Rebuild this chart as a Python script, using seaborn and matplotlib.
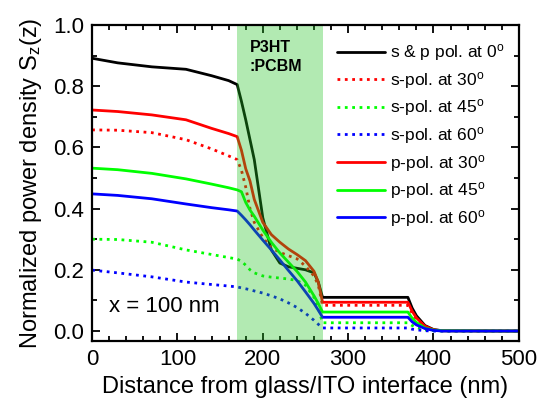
import matplotlib
matplotlib.use("Agg")
import matplotlib.pyplot as plt
import seaborn as sns

# distance from glass/ITO interface (nm)
z = [0, 30, 70, 110, 140, 160, 170, 175, 180, 185, 190, 200, 210, 220, 230,
     240, 250, 260, 265, 270, 370, 375, 380, 390, 400, 410, 500]

sp_0 = [0.891, 0.876, 0.863, 0.855, 0.834, 0.818, 0.805, 0.75, 0.69, 0.625, 0.56,
        0.37, 0.265, 0.222, 0.21, 0.205, 0.20, 0.19, 0.16, 0.11, 0.11, 0.075,
        0.05, 0.018, 0.005, 0.001, 0.0]
s_30 = [0.657, 0.656, 0.648, 0.625, 0.595, 0.572, 0.56, 0.525, 0.47, 0.40, 0.355,
        0.305, 0.272, 0.257, 0.246, 0.236, 0.212, 0.18, 0.15, 0.084, 0.084, 0.058,
        0.038, 0.014, 0.003, 0.001, 0.0]
s_45 = [0.30, 0.299, 0.29, 0.265, 0.25, 0.24, 0.235, 0.228, 0.215, 0.20, 0.19,
        0.18, 0.176, 0.173, 0.17, 0.165, 0.15, 0.11, 0.075, 0.027, 0.027, 0.018,
        0.012, 0.004, 0.001, 0.0, 0.0]
s_60 = [0.199, 0.19, 0.177, 0.16, 0.152, 0.147, 0.144, 0.141, 0.138, 0.135, 0.131,
        0.124, 0.115, 0.105, 0.092, 0.077, 0.058, 0.035, 0.022, 0.01, 0.01, 0.006,
        0.004, 0.001, 0.0, 0.0, 0.0]
p_30 = [0.722, 0.717, 0.706, 0.69, 0.662, 0.645, 0.635, 0.59, 0.53, 0.49, 0.43,
        0.355, 0.315, 0.29, 0.268, 0.25, 0.23, 0.195, 0.16, 0.094, 0.094, 0.065,
        0.043, 0.016, 0.004, 0.001, 0.0]
p_45 = [0.532, 0.527, 0.515, 0.497, 0.48, 0.468, 0.461, 0.455, 0.42, 0.395, 0.375,
        0.33, 0.29, 0.255, 0.225, 0.195, 0.16, 0.115, 0.09, 0.062, 0.062, 0.042,
        0.028, 0.01, 0.003, 0.001, 0.0]
p_60 = [0.448, 0.443, 0.432, 0.415, 0.403, 0.396, 0.392, 0.378, 0.363, 0.347, 0.33,
        0.297, 0.265, 0.232, 0.198, 0.165, 0.128, 0.09, 0.068, 0.045, 0.045, 0.03,
        0.02, 0.008, 0.002, 0.0, 0.0]

labels = ["s & p pol. at 0$^\\mathrm{o}$", "s-pol. at 30$^\\mathrm{o}$",
          "s-pol. at 45$^\\mathrm{o}$", "s-pol. at 60$^\\mathrm{o}$",
          "p-pol. at 30$^\\mathrm{o}$", "p-pol. at 45$^\\mathrm{o}$",
          "p-pol. at 60$^\\mathrm{o}$"]
series = [sp_0, s_30, s_45, s_60, p_30, p_45, p_60]
colors = ["black", "#ff0000", "#00ff00", "#0000ff", "#ff0000", "#00ff00", "#0000ff"]
styles = ["-", ":", ":", ":", "-", "-", "-"]

sns.set_style("ticks")
plt.rcParams["font.family"] = ["Liberation Sans", "DejaVu Sans"]
plt.rcParams["mathtext.fontset"] = "custom"
plt.rcParams["mathtext.rm"] = "Liberation Sans"
plt.rcParams["mathtext.it"] = "Liberation Sans:italic"
for key in ["text.color", "axes.labelcolor", "xtick.color", "ytick.color",
            "axes.edgecolor"]:
    plt.rcParams[key] = "black"

fig = plt.figure(figsize=(5.45, 4.15), dpi=100)
ax = fig.add_axes([0.169, 0.178, 0.783, 0.762])

for vals, lab, c, ls in zip(series, labels, colors, styles):
    sns.lineplot(x=z, y=vals, color=c, linestyle=ls, linewidth=2.0, label=lab,
                 ax=ax, zorder=2)

# P3HT:PCBM layer
ax.axvspan(170, 270, color=(0.14, 0.77, 0.14), alpha=0.35, lw=0, zorder=5)
ax.text(185, 0.95, "P3HT\n:PCBM", fontsize=11.5, fontweight="bold",
        ha="left", va="top", linespacing=1.3, zorder=6)
ax.text(0.04, 0.11, "x = 100 nm", transform=ax.transAxes, fontsize=16,
        ha="left", va="center")

ax.set_xlim(0, 500)
ax.set_ylim(-0.033, 1.0)
ax.set_xticks(range(0, 501, 100))
ax.set_xticks(range(0, 501, 20), minor=True)
ax.set_yticks([0.0, 0.2, 0.4, 0.6, 0.8, 1.0])
ax.set_yticks([0.1, 0.3, 0.5, 0.7, 0.9], minor=True)
ax.yaxis.set_major_formatter(matplotlib.ticker.FormatStrFormatter("%.1f"))
ax.tick_params(which="both", direction="in", top=True, right=True,
               labelsize=16, width=1.3, pad=6, color="black")
ax.tick_params(which="major", length=6)
ax.tick_params(which="minor", length=3.5)
for sp in ax.spines.values():
    sp.set_linewidth(1.6)
    sp.set_color("black")
    sp.set_zorder(7)

ax.set_xlabel("Distance from glass/ITO interface (nm)", fontsize=17, labelpad=4)
ax.set_ylabel("Normalized power density S$_\\mathrm{z}$(z)", fontsize=17, labelpad=6)

ax.legend(loc="upper left", bbox_to_anchor=(0.574, 0.945), frameon=False,
          fontsize=12.5, handlelength=2.75, handletextpad=0.3, labelspacing=0.38,
          borderaxespad=0, borderpad=0)

fig.savefig("out.png", dpi=100)
